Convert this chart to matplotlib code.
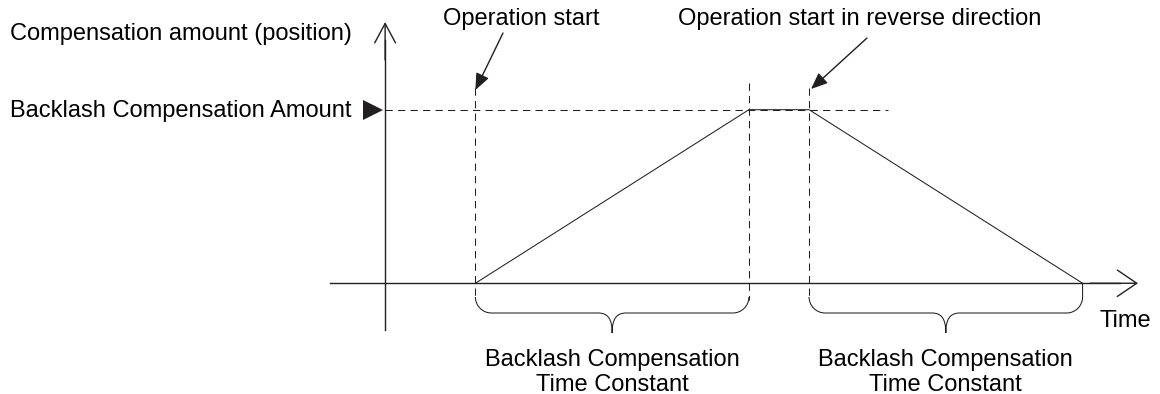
import matplotlib
matplotlib.use("Agg")
import matplotlib.pyplot as plt
from matplotlib.path import Path
from matplotlib.patches import PathPatch

plt.rcParams['font.family'] = ['Liberation Sans', 'DejaVu Sans']

# compensation profile (time in units of the time constant, amount normalised)
times = [0.33, 1.33, 1.55, 2.55]
amount = [0, 1, 1, 0]
level = 1.0

y_label = "Compensation amount (position)"
x_label = "Time"
level_label = "Backlash Compensation Amount"
start_label = "Operation start"
reverse_label = "Operation start in reverse direction"
brace_label = "Backlash Compensation\nTime Constant"

ink = '#231f20'
FS = 17
W, H = 1160, 394
XMIN, XMAX = -1.408, 2.833
YMIN, YMAX = -0.638, 1.632


def px(x, y):
    # pixel position -> data position
    return (XMIN + x * (XMAX - XMIN) / W, YMAX - y * (YMAX - YMIN) / H)


fig = plt.figure(figsize=(11.6, 3.94), dpi=100)
ax = fig.add_axes([0, 0, 1, 1])
ax.set_xlim(XMIN, XMAX)
ax.set_ylim(YMIN, YMAX)
ax.axis('off')

# axes with open arrow heads
ax.plot([0, 0], [px(0, 330)[1], px(0, 40)[1]], color=ink, lw=1.0)
ax.annotate('', xy=(0, px(0, 22)[1]), xytext=(0, px(0, 60)[1]),
            arrowprops=dict(arrowstyle='->,head_length=14,head_width=7.5',
                            mutation_scale=1, color=ink, lw=1.0,
                            shrinkA=0, shrinkB=0))
ax.plot([px(330, 0)[0], px(1120, 0)[0]], [0, 0], color=ink, lw=1.0)
ax.annotate('', xy=(px(1138, 0)[0], 0), xytext=(px(1090, 0)[0], 0),
            arrowprops=dict(arrowstyle='->,head_length=14,head_width=9.5',
                            mutation_scale=1, color=ink, lw=1.0,
                            shrinkA=0, shrinkB=0))

# compensation profile
ax.plot(times, amount, color=ink, lw=0.75)

# dashed guides
dash = (0, (7, 5))
ax.plot([0, px(888, 0)[0]], [level, level], color=ink, lw=0.75, ls=dash)
tops = [88, 83, 88]
for t, top in zip(times[:3], tops):
    ax.plot([t, t], [px(0, top)[1], px(0, 300)[1]], color=ink, lw=0.75, ls=dash)

# level marker
ax.plot([px(373, 0)[0]], [level], marker='>', color=ink, markersize=14,
        markeredgewidth=0)


def brace(x0, x1, left_top, right_top):
    yh = px(0, 313)[1]
    ytip = px(0, 333)[1]
    rx = 16 * (XMAX - XMIN) / W
    ry = 16 * (YMAX - YMIN) / H
    cx = (x0 + x1) / 2
    crx = 14 * (XMAX - XMIN) / W
    cry = yh - ytip
    verts = [(x0, left_top), (x0, yh + ry),
             (x0, yh + ry * 0.45), (x0 + rx * 0.45, yh), (x0 + rx, yh),
             (cx - crx, yh),
             (cx - crx * 0.3, yh), (cx, yh - cry * 0.3), (cx, ytip),
             (cx, yh - cry * 0.3), (cx + crx * 0.3, yh), (cx + crx, yh),
             (x1 - rx, yh),
             (x1 - rx * 0.45, yh), (x1, yh + ry * 0.45), (x1, yh + ry),
             (x1, right_top)]
    codes = [Path.MOVETO, Path.LINETO,
             Path.CURVE4, Path.CURVE4, Path.CURVE4,
             Path.LINETO,
             Path.CURVE4, Path.CURVE4, Path.CURVE4,
             Path.CURVE4, Path.CURVE4, Path.CURVE4,
             Path.LINETO,
             Path.CURVE4, Path.CURVE4, Path.CURVE4,
             Path.LINETO]
    ax.add_patch(PathPatch(Path(verts, codes), fill=False, ec=ink, lw=0.75))
    ax.text(cx, px(0, 391)[1], brace_label, ha='center', va='baseline',
            fontsize=FS, linespacing=1.2, color='black')


stub = px(0, 297)[1]
brace(times[0], times[1], stub, stub)
brace(times[2], times[3], stub, 0)

# labels
ax.text(*px(10, 40), y_label, fontsize=FS, va='baseline', ha='left')
ax.text(*px(10, 117), level_label, fontsize=FS, va='baseline', ha='left')
ax.text(*px(521, 25), start_label, fontsize=FS, va='baseline', ha='center')
ax.text(*px(860, 25), reverse_label, fontsize=FS, va='baseline', ha='center')
ax.text(*px(1100, 327), x_label, fontsize=FS, va='baseline', ha='left')

# pointer arrows
arrow = dict(arrowstyle='-|>,head_length=10,head_width=4.2', mutation_scale=1,
             color=ink, lw=1.0, shrinkA=0, shrinkB=0)
ax.annotate('', xy=(times[0], px(0, 90)[1]), xytext=px(503, 33), arrowprops=arrow)
ax.annotate('', xy=(times[2] + px(2, 0)[0] - XMIN, px(0, 89)[1]), xytext=px(867, 38),
            arrowprops=arrow)

fig.savefig('out.png', dpi=100)
